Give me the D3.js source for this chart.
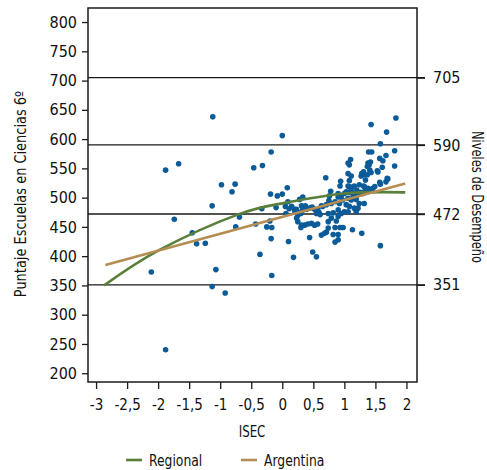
<!DOCTYPE html>
<html>
<head>
<meta charset="utf-8">
<script src="https://cdn.jsdelivr.net/npm/d3@7"></script>
<style>
  body { margin: 0; background: #fff; }
  svg text { font-family: "Liberation Sans Narrow", "DejaVu Sans Condensed", sans-serif; fill: #111; }
</style>
</head>
<body>
<div id="chart"></div>
<script>
/* escuelas: ISEC vs puntaje en ciencias 6º */

const isec = [
  -2.11, -1.88, -1.88, -1.74, -1.67, -1.45, -1.38, -1.24, -1.13, -1.13, -1.12, -1.07, -0.98, -0.92,
  -0.81, -0.76, -0.75, -0.69, -0.46, -0.43, -0.36, -0.33, -0.32, -0.25, -0.20, -0.19, -0.18, -0.18,
  -0.17, -0.17, -0.10, -0.08, 0.00, 0.00, 0.05, 0.08, 0.09, 0.10, 0.11, 0.06, 0.18, 0.15,
  0.20, 0.20, 0.23, 0.23, 0.25, 0.25, 0.28, 0.28, 0.30, 0.30, 0.31, 0.31, 0.33, 0.33, 0.35, 0.36,
  0.37, 0.39, 0.41, 0.44, 0.44, 0.47, 0.48, 0.49, 0.52, 0.52, 0.55, 0.55, 0.57, 0.57, 0.59, 0.61,
  0.63, 0.63, 0.65, 0.68, 0.70, 0.71, 0.71, 0.74, 0.74, 0.74, 0.75, 0.76, 0.78, 0.79, 0.79, 0.82,
  0.82, 0.85, 0.85, 0.85, 0.87, 0.90, 0.90, 0.90, 0.90, 0.90, 0.90, 0.92, 0.93, 0.93, 0.94, 0.95,
  0.95, 0.97, 0.98, 1.00, 1.00, 1.03, 1.03, 1.06, 1.06, 1.06, 1.06, 1.06, 1.07, 1.08, 1.08, 1.08,
  1.08, 1.10, 1.10, 1.11, 1.11, 1.11, 1.11, 1.13, 1.14, 1.14, 1.16, 1.16, 1.16, 1.19, 1.19, 1.20,
  1.21, 1.22, 1.22, 1.24, 1.24, 1.26, 1.27, 1.28, 1.28, 1.30, 1.30, 1.31, 1.31, 1.32, 1.32, 1.33,
  1.33, 1.34, 1.34, 1.37, 1.37, 1.38, 1.38, 1.39, 1.40, 1.41, 1.41, 1.42, 1.43, 1.43, 1.44, 1.46,
  1.49, 1.53, 1.54, 1.57, 1.57, 1.58, 1.58, 1.58, 1.62, 1.61, 1.67, 1.68, 1.69, 1.67, 1.70, 1.81,
  1.81, 1.83
]
const puntaje = [
  373, 240, 547, 463, 558, 440, 421, 422, 486, 348, 638, 377, 522, 337,
  510, 523, 450, 467, 551, 455, 403, 481, 555, 450, 460, 506, 578, 430,
  449, 367, 483, 503, 606, 506, 485, 517, 493, 425, 481, 473, 398, 485,
  477, 480, 465, 480, 459, 470, 474, 497, 449, 473, 453, 486, 501, 479, 480, 453,
  486, 480, 455, 482, 432, 456, 484, 407, 453, 480, 473, 399, 455, 479, 475, 471,
  436, 486, 485, 439, 534, 488, 441, 473, 459, 448, 495, 503, 511, 490, 465, 474,
  437, 493, 449, 424, 460, 507, 501, 479, 468, 437, 428, 490, 520, 449, 528, 503,
  473, 496, 449, 507, 476, 510, 488, 541, 520, 499, 476, 559, 519, 529, 556, 509,
  485, 565, 518, 537, 516, 496, 511, 445, 502, 507, 520, 507, 482, 497, 476, 513,
  505, 505, 482, 522, 490, 509, 537, 541, 439, 542, 507, 520, 544, 519, 490, 539,
  511, 530, 516, 553, 539, 516, 559, 578, 556, 514, 547, 561, 543, 625, 578, 516,
  519, 546, 544, 526, 567, 592, 418, 523, 563, 552, 572, 612, 533, 527, 532, 580,
  554, 636
]

// curvas de tendencia (puntos leídos sobre las líneas)
const regionalX = [-2.87, -1.97, -0.72, 0.04, 1.0, 1.98]
const regionalY = [350, 411, 471, 491, 507, 509]
const argentinaX = [-2.85, 1.98]
const argentinaY = [385, 524]

const ejeY = d3.range(200, 801, 50)
const ejeX = d3.range(-3, 2.01, 0.5)
const niveles = [351, 472, 590, 705]

const W = 487, H = 470

const svg = d3.select("#chart").append("svg")
    .attr("width", W)
    .attr("height", H)

const x = d3.scaleLinear().domain([-3.13, 2.17]).range([88, 417])
const y = d3.scaleLinear().domain([185, 824]).range([382, 8])

const coma = d => String(Math.round(d * 10) / 10).replace(".", ",")

/* líneas de niveles de desempeño */
svg.append("g")
  .selectAll("line")
  .data(niveles)
  .join("line")
    .attr("x1", x.range()[0])
    .attr("x2", x.range()[1] + 8)
    .attr("y1", d => y(d))
    .attr("y2", d => y(d))
    .attr("stroke", "#1a1a1a")
    .attr("stroke-width", 1.3)

/* ejes */
const gy = svg.append("g")
    .attr("transform", "translate(88,0)")
    .call(d3.axisLeft(y).tickValues(ejeY).tickSize(6).tickSizeOuter(0).tickPadding(5))
const gx = svg.append("g")
    .attr("transform", "translate(0,382)")
    .call(d3.axisBottom(x).tickValues(ejeX).tickFormat(coma).tickSize(7).tickSizeOuter(0).tickPadding(10))
const gr = svg.append("g")
    .attr("transform", "translate(417,0)")
    .call(d3.axisRight(y).tickValues(niveles).tickSize(8).tickSizeOuter(0).tickPadding(8))

for (const g of [gx, gy, gr]) {
  g.select(".domain").remove()
  g.selectAll(".tick line").attr("stroke", "#1a1a1a").attr("stroke-width", 1.3)
  g.selectAll(".tick text").attr("font-size", 16).attr("fill", "#111")
}
gx.selectAll(".tick text").attr("font-size", 15)

/* marco */
svg.append("rect")
    .attr("x", 88)
    .attr("y", 8)
    .attr("width", 417 - 88)
    .attr("height", 382 - 8)
    .attr("fill", "none")
    .attr("stroke", "#1a1a1a")
    .attr("stroke-width", 1.5)

/* puntos */
svg.append("g")
  .selectAll("circle")
  .data(d3.range(isec.length))
  .join("circle")
    .attr("cx", i => x(isec[i]))
    .attr("cy", i => y(puntaje[i]))
    .attr("r", 2.8)
    .attr("fill", "#0b5b98")

/* tendencias */
const linea = d3.line().x(d => x(d[0])).y(d => y(d[1])).curve(d3.curveNatural)
svg.append("path")
    .datum(d3.zip(regionalX, regionalY))
    .attr("d", linea)
    .attr("fill", "none")
    .attr("stroke", "#5a7f3a")
    .attr("stroke-width", 2.6)
svg.append("path")
    .datum(d3.zip(argentinaX, argentinaY))
    .attr("d", linea)
    .attr("fill", "none")
    .attr("stroke", "#b58c52")
    .attr("stroke-width", 2.6)

/* títulos (la fuente del original es más estrecha: se comprime a lo ancho) */
svg.append("text")
    .attr("transform", "translate(26,194) rotate(-90) scale(0.9,1)")
    .attr("text-anchor", "middle")
    .attr("font-size", 16)
    .text("Puntaje Escuelas en Ciencias 6º")
svg.append("text")
    .attr("transform", "translate(472,197) rotate(90) scale(0.85,1)")
    .attr("text-anchor", "middle")
    .attr("font-size", 15)
    .text("Niveles de Desempeño")
svg.append("text")
    .attr("transform", "translate(252,437) scale(0.82,1)")
    .attr("text-anchor", "middle")
    .attr("font-size", 16)
    .text("ISEC")

/* leyenda */
const leyenda = [
  { nombre: "Regional", color: "#5a7f3a", x: 126 },
  { nombre: "Argentina", color: "#b58c52", x: 241 }
]
const lg = svg.append("g").selectAll("g").data(leyenda).join("g")
    .attr("transform", d => `translate(${d.x},460)`)
lg.append("line")
    .attr("x1", 0).attr("x2", 16)
    .attr("stroke", d => d.color)
    .attr("stroke-width", 2.6)
lg.append("text")
    .attr("transform", "translate(23,0) scale(0.86,1)")
    .attr("dy", "0.35em")
    .attr("font-size", 16)
    .text(d => d.nombre)
</script>
</body>
</html>
